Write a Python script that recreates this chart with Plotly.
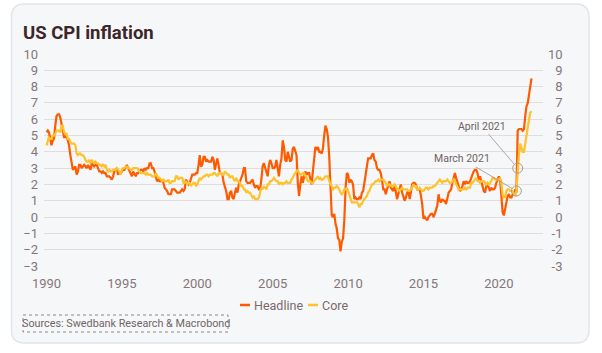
import pandas as pd
import plotly.graph_objects as go

# ---------------- data (monthly, y/y %) ----------------
headline = [
    5.2, 5.3, 5.2, 4.7, 4.4, 4.7, 4.8, 5.6, 6.2, 6.3, 6.3, 6.1,   # 1990
    5.7, 5.3, 4.9, 4.9, 5.0, 4.7, 4.4, 3.8, 3.4, 2.9, 3.0, 3.1,   # 1991
    2.6, 2.8, 3.2, 3.2, 3.0, 3.1, 3.2, 3.1, 3.0, 3.2, 3.0, 2.9,   # 1992
    3.3, 3.2, 3.1, 3.2, 3.2, 3.0, 2.8, 2.8, 2.7, 2.8, 2.7, 2.7,   # 1993
    2.5, 2.5, 2.5, 2.4, 2.3, 2.5, 2.8, 2.9, 3.0, 2.6, 2.7, 2.7,   # 1994
    2.8, 2.9, 2.9, 3.1, 3.2, 3.0, 2.8, 2.6, 2.5, 2.8, 2.6, 2.5,   # 1995
    2.7, 2.7, 2.8, 2.9, 2.9, 2.8, 3.0, 2.9, 3.0, 3.0, 3.3, 3.3,   # 1996
    3.0, 3.0, 2.8, 2.5, 2.2, 2.3, 2.2, 2.2, 2.2, 2.1, 1.8, 1.7,   # 1997
    1.6, 1.4, 1.4, 1.4, 1.7, 1.7, 1.7, 1.6, 1.5, 1.5, 1.5, 1.6,   # 1998
    1.7, 1.6, 1.7, 2.3, 2.1, 2.0, 2.1, 2.3, 2.6, 2.6, 2.6, 2.7,   # 1999
    2.7, 3.2, 3.8, 3.1, 3.2, 3.7, 3.7, 3.4, 3.5, 3.4, 3.4, 3.4,   # 2000
    3.7, 3.5, 2.9, 3.3, 3.6, 3.2, 2.7, 2.7, 2.6, 2.1, 1.9, 1.6,   # 2001
    1.1, 1.1, 1.5, 1.6, 1.2, 1.1, 1.5, 1.8, 1.5, 2.0, 2.2, 2.4,   # 2002
    2.6, 3.0, 3.0, 2.2, 2.1, 2.1, 2.1, 2.2, 2.3, 2.0, 1.8, 1.9,   # 2003
    1.9, 1.7, 1.7, 2.3, 3.1, 3.3, 3.0, 2.7, 2.5, 3.2, 3.5, 3.3,   # 2004
    3.0, 3.0, 3.1, 3.5, 2.8, 2.5, 3.2, 3.6, 4.7, 4.3, 3.5, 3.4,   # 2005
    4.0, 3.6, 3.4, 3.5, 4.2, 4.3, 4.1, 3.8, 2.1, 1.3, 2.0, 2.5,   # 2006
    2.1, 2.4, 2.8, 2.6, 2.7, 2.7, 2.4, 2.0, 2.8, 3.5, 4.3, 4.1,   # 2007
    4.3, 4.0, 4.0, 3.9, 4.2, 5.0, 5.6, 5.4, 4.9, 3.7, 1.1, 0.1,   # 2008
    0.0, 0.2, -0.4, -0.7, -1.3, -1.4, -2.1, -1.5, -1.3, -0.2, 1.8, 2.7,  # 2009
    2.6, 2.1, 2.3, 2.2, 2.0, 1.1, 1.2, 1.1, 1.1, 1.2, 1.1, 1.5,   # 2010
    1.6, 2.1, 2.7, 3.2, 3.6, 3.6, 3.6, 3.8, 3.9, 3.5, 3.4, 3.0,   # 2011
    2.9, 2.9, 2.7, 2.3, 1.7, 1.7, 1.4, 1.7, 2.0, 2.2, 1.8, 1.7,   # 2012
    1.6, 2.0, 1.5, 1.1, 1.4, 1.8, 2.0, 1.5, 1.2, 1.0, 1.2, 1.5,   # 2013
    1.6, 1.1, 1.5, 2.0, 2.1, 2.1, 2.0, 1.7, 1.7, 1.7, 1.3, 0.8,   # 2014
    -0.1, 0.0, -0.1, -0.2, 0.0, 0.1, 0.2, 0.2, 0.0, 0.2, 0.5, 0.7,  # 2015
    1.4, 1.0, 0.9, 1.1, 1.0, 1.0, 0.8, 1.1, 1.5, 1.6, 1.7, 2.1,   # 2016
    2.5, 2.7, 2.4, 2.2, 1.9, 1.6, 1.7, 1.9, 2.2, 2.0, 2.2, 2.1,   # 2017
    2.1, 2.2, 2.4, 2.5, 2.8, 2.9, 2.9, 2.7, 2.3, 2.5, 2.2, 1.9,   # 2018
    1.6, 1.5, 1.9, 2.0, 1.8, 1.6, 1.8, 1.7, 1.7, 1.8, 2.1, 2.3,   # 2019
    2.5, 2.3, 1.5, 0.3, 0.1, 0.6, 1.0, 1.3, 1.4, 1.2, 1.2, 1.4,   # 2020
    1.4, 1.7, 1.5, 5.3, 5.4, 5.4, 5.4, 5.3, 5.4, 6.2, 6.8, 7.0,   # 2021
    7.5, 7.9, 8.5,                                                # 2022
]

core = [
    4.4, 4.6, 4.9, 4.8, 4.8, 5.0, 5.0, 5.1, 5.3, 5.3, 5.3, 5.2,   # 1990
    5.6, 5.6, 5.2, 5.1, 5.1, 4.8, 4.8, 4.6, 4.5, 4.5, 4.5, 4.4,   # 1991
    3.9, 3.8, 3.9, 3.9, 3.8, 3.8, 3.7, 3.5, 3.4, 3.4, 3.5, 3.3,   # 1992
    3.5, 3.4, 3.3, 3.4, 3.3, 3.3, 3.2, 3.2, 3.1, 3.2, 3.1, 3.2,   # 1993
    2.9, 2.8, 2.9, 2.8, 2.8, 2.9, 2.9, 2.9, 3.0, 2.9, 2.8, 2.6,   # 1994
    2.9, 3.0, 3.0, 3.1, 3.1, 3.0, 3.0, 2.9, 2.9, 3.0, 3.0, 3.0,   # 1995
    3.0, 2.9, 2.8, 2.7, 2.7, 2.7, 2.7, 2.6, 2.7, 2.6, 2.6, 2.6,   # 1996
    2.5, 2.5, 2.5, 2.7, 2.5, 2.4, 2.4, 2.3, 2.2, 2.3, 2.2, 2.2,   # 1997
    2.2, 2.3, 2.1, 2.1, 2.2, 2.2, 2.2, 2.5, 2.5, 2.3, 2.4, 2.4,   # 1998
    2.4, 2.1, 2.1, 2.2, 2.0, 2.1, 2.1, 1.9, 2.0, 2.1, 2.1, 1.9,   # 1999
    2.0, 2.2, 2.4, 2.3, 2.4, 2.5, 2.5, 2.6, 2.6, 2.5, 2.6, 2.6,   # 2000
    2.6, 2.7, 2.7, 2.6, 2.5, 2.7, 2.7, 2.7, 2.6, 2.6, 2.8, 2.7,   # 2001
    2.6, 2.6, 2.4, 2.5, 2.5, 2.3, 2.2, 2.4, 2.2, 2.2, 2.0, 1.9,   # 2002
    1.9, 1.7, 1.7, 1.5, 1.6, 1.5, 1.5, 1.3, 1.2, 1.3, 1.1, 1.1,   # 2003
    1.1, 1.2, 1.6, 1.8, 1.7, 1.9, 1.8, 1.7, 2.0, 2.0, 2.2, 2.2,   # 2004
    2.3, 2.4, 2.3, 2.2, 2.2, 2.0, 2.1, 2.1, 2.0, 2.1, 2.1, 2.2,   # 2005
    2.1, 2.1, 2.1, 2.3, 2.4, 2.6, 2.7, 2.8, 2.9, 2.7, 2.6, 2.6,   # 2006
    2.7, 2.7, 2.5, 2.3, 2.2, 2.2, 2.2, 2.1, 2.1, 2.2, 2.3, 2.4,   # 2007
    2.5, 2.3, 2.4, 2.3, 2.3, 2.4, 2.5, 2.5, 2.5, 2.2, 2.0, 1.8,   # 2008
    1.7, 1.8, 1.8, 1.9, 1.8, 1.7, 1.5, 1.4, 1.5, 1.7, 1.7, 1.8,   # 2009
    1.6, 1.3, 1.1, 0.9, 0.9, 0.9, 0.9, 0.9, 0.8, 0.6, 0.8, 0.8,   # 2010
    1.0, 1.1, 1.2, 1.3, 1.5, 1.6, 1.8, 2.0, 2.0, 2.1, 2.2, 2.2,   # 2011
    2.3, 2.2, 2.3, 2.3, 2.3, 2.2, 2.1, 1.9, 2.0, 2.0, 1.9, 1.9,   # 2012
    1.9, 2.0, 1.9, 1.7, 1.7, 1.6, 1.7, 1.8, 1.7, 1.7, 1.7, 1.7,   # 2013
    1.6, 1.6, 1.7, 1.8, 2.0, 1.9, 1.9, 1.7, 1.7, 1.8, 1.7, 1.6,   # 2014
    1.6, 1.7, 1.8, 1.8, 1.7, 1.8, 1.8, 1.8, 1.9, 1.9, 2.0, 2.1,   # 2015
    2.2, 2.3, 2.2, 2.1, 2.2, 2.2, 2.2, 2.3, 2.2, 2.1, 2.1, 2.2,   # 2016
    2.3, 2.2, 2.0, 1.9, 1.7, 1.7, 1.7, 1.7, 1.7, 1.8, 1.7, 1.8,   # 2017
    1.8, 1.8, 2.1, 2.1, 2.2, 2.3, 2.4, 2.2, 2.2, 2.1, 2.2, 2.2,   # 2018
    2.2, 2.1, 2.0, 2.1, 2.0, 2.1, 2.2, 2.4, 2.4, 2.3, 2.3, 2.3,   # 2019
    2.3, 2.4, 2.1, 1.4, 1.2, 1.2, 1.6, 1.7, 1.7, 1.6, 1.6, 1.6,   # 2020
    1.4, 1.3, 1.6, 3.0, 3.8, 4.5, 4.3, 4.0, 4.0, 4.6, 4.9, 5.5,   # 2021
    6.0, 6.4, 6.5,                                                # 2022
]

start_month = "1990-01-01"
dates = pd.date_range(start_month, periods=len(headline), freq="MS")

series_names = ["Headline", "Core"]
marked_months = ["2021-03-01", "2021-04-01"]
marked_labels = ["March 2021", "April 2021"]
core_s = pd.Series(core, index=dates)
marked_vals = [core_s[pd.Timestamp(m)] for m in marked_months]

y_ticks = list(range(-3, 11))
x_tick_years = list(range(1990, 2021, 5))
source_text = "Sources: Swedbank Research &amp; Macrobond"

# ---------------- style ----------------
W, H = 602, 353
ML, MR, MT, MB = 44, 59, 54, 87
PW, PH = W - ML - MR, H - MT - MB
HEAD_C = "#ff5a00"
CORE_C = "#fdc22c"
TICK_C = "#85767a"
GRID_C = "#e2dddd"
CARD_C = "#f6f7f8"
FONT = "Roboto"


def px_x(x):
    return (x - ML) / PW


def px_y(y):
    return (H - MB - y) / PH


fig = go.Figure()
fig.add_trace(go.Scatter(x=dates, y=headline, name=series_names[0], mode="lines",
                         showlegend=False, line=dict(color=HEAD_C, width=2.2)))
fig.add_trace(go.Scatter(x=dates, y=core, name=series_names[1], mode="lines",
                         showlegend=False, line=dict(color=CORE_C, width=2.2)))
# circles marking March / April 2021 (placed on the right-hand axis, same scale)
fig.add_trace(go.Scatter(x=pd.to_datetime(marked_months), y=marked_vals, mode="markers",
                         yaxis="y2", showlegend=False, hoverinfo="skip",
                         marker=dict(symbol="circle-open", size=10, color="#a39c9c",
                                     line=dict(color="#a39c9c", width=1))))

offsets = [(-54, -32), (-36, -42)]
for m, v, lab, (ax, ay) in zip(marked_months, marked_vals, marked_labels, offsets):
    fig.add_annotation(x=m, y=v, text=lab, showarrow=True, arrowhead=0,
                       arrowwidth=0.8, arrowcolor="#9a9090", ax=ax, ay=ay,
                       standoff=5, font=dict(size=10.5, color="#6e6262", family=FONT))

# card background with rounded corners
x0, x1, y0, y1, r = 11.5, 589, 4, 343, 13


def pt(x, y):
    return f"{px_x(x):.5f},{px_y(y):.5f}"


path = (f"M {pt(x0 + r, y0)} L {pt(x1 - r, y0)} Q {pt(x1, y0)} {pt(x1, y0 + r)} "
        f"L {pt(x1, y1 - r)} Q {pt(x1, y1)} {pt(x1 - r, y1)} "
        f"L {pt(x0 + r, y1)} Q {pt(x0, y1)} {pt(x0, y1 - r)} "
        f"L {pt(x0, y0 + r)} Q {pt(x0, y0)} {pt(x0 + r, y0)} Z")
fig.add_shape(type="path", path=path, xref="paper", yref="paper", layer="below",
              fillcolor=CARD_C, line=dict(color="#e2e5e9", width=1.5))

# custom legend (short line samples)
legend_items = [(240, HEAD_C, series_names[0]), (308, CORE_C, series_names[1])]
for lx, col, name in legend_items:
    fig.add_shape(type="line", xref="paper", yref="paper",
                  x0=px_x(lx), x1=px_x(lx + 10), y0=px_y(305), y1=px_y(305),
                  line=dict(color=col, width=2.5))
    fig.add_annotation(x=px_x(lx + 12), y=px_y(305), xref="paper", yref="paper",
                       text=name, showarrow=False, xanchor="left", yanchor="middle",
                       font=dict(size=12.5, color="#7a6a6a", family=FONT))

# sources box
fig.add_shape(type="rect", xref="paper", yref="paper", layer="above",
              x0=px_x(23), x1=px_x(228), y0=px_y(315), y1=px_y(332),
              line=dict(color="#8a8a8a", width=1, dash="dot"), fillcolor="rgba(0,0,0,0)")
fig.add_annotation(x=px_x(125.5), y=px_y(323.5), xref="paper", yref="paper",
                   text=source_text, showarrow=False,
                   xanchor="center", yanchor="middle",
                   font=dict(size=10.8, color="#6e6666", family=FONT))

# right-axis labels are right-aligned in the reference: pad with figure spaces
FIG_SP = "\u2007"
PUNCT_SP = "\u2008"


def right_label(v):
    s = str(v).replace("-", "\u2212") if False else str(v)
    if v >= 10:
        return s
    if v >= 0:
        return FIG_SP + s
    return PUNCT_SP + s


axis_font = dict(size=13, color=TICK_C, family=FONT)
fig.update_layout(
    width=W, height=H,
    margin=dict(l=ML, r=MR, t=MT, b=MB),
    paper_bgcolor="white",
    plot_bgcolor="rgba(0,0,0,0)",
    title=dict(text="<b>US CPI inflation</b>", x=23 / W, xanchor="left",
               y=1 - 32.5 / H, yanchor="middle",
               font=dict(size=18.5, color="#3b2628", family=FONT)),
    showlegend=False,
    xaxis=dict(type="date", range=["1989-11-01", "2022-12-05"],
               tickvals=pd.to_datetime([f"{y}-01-01" for y in x_tick_years]),
               tickformat="%Y", showgrid=False, zeroline=False, showline=False,
               ticks="", tickfont=axis_font, ticklabelstandoff=8),
    yaxis=dict(range=[-3, 10], tickvals=y_ticks, showgrid=True, gridcolor=GRID_C,
               gridwidth=1, zeroline=False, showline=False, ticks="",
               tickfont=axis_font, ticklabelstandoff=5),
    yaxis2=dict(matches="y", overlaying="y", side="right", tickvals=y_ticks,
                ticktext=[right_label(v) for v in y_ticks],
                showgrid=False, zeroline=False, showline=False, ticks="",
                tickfont=axis_font, ticklabelstandoff=4),
)

fig.write_html("out.html")
